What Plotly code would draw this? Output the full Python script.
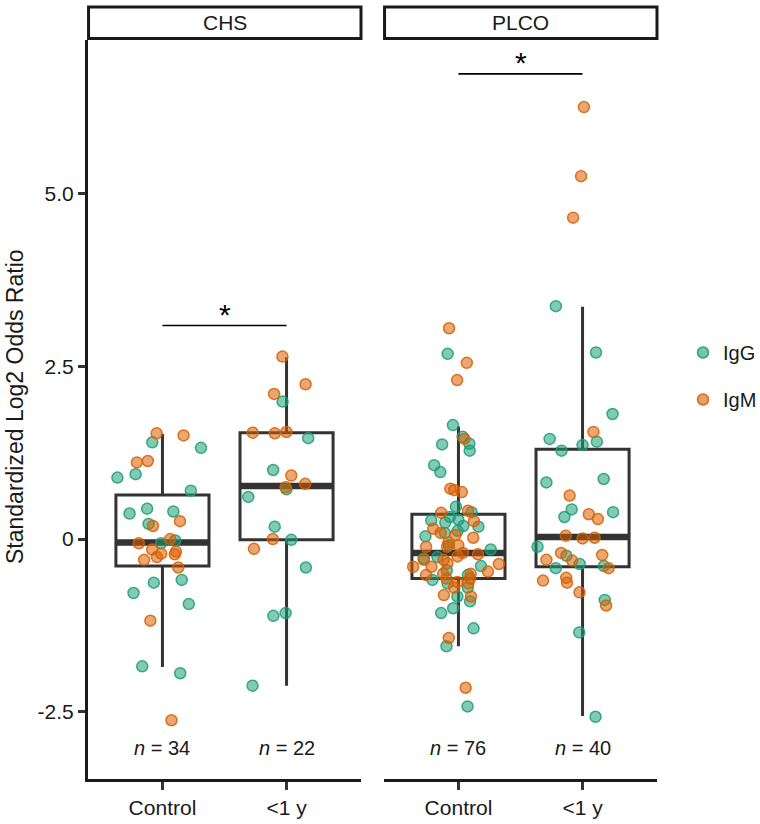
import plotly.graph_objects as go

# ---------------- data ----------------
categories = ["Control", "<1 y"]
panels = ["CHS", "PLCO"]
groups = ["IgG", "IgM"]

chs_control_igg = [1.40, 1.32, 0.94, 0.89, 0.70, 0.37, 0.44, 0.40, 0.22, -0.06,
                   -0.02, -0.63, -0.78, -0.59, -0.94, -1.84, -1.94]
chs_control_igm = [1.53, 1.50, 1.13, 1.11, 0.26, 0.19, -0.06, 0.00, -0.21, -0.26,
                   -0.18, -0.30, -0.22, -0.41, -1.18, -2.62, -0.15]
chs_lt1_igg = [1.99, 1.46, 1.00, 0.72, 0.61, 0.18, -0.01, -0.41, -1.07, -1.11, -2.12]
chs_lt1_igm = [2.64, 2.24, 2.10, 1.54, 1.53, 1.55, 0.92, 0.80, 0.75, 0.00, -0.14]

plco_control_igg = [2.68, 1.65, 1.48, 1.28, 1.38, 1.37, 1.07, 0.97, 0.47, 0.39,
                    0.32, 0.28, 0.19, 0.24, 0.27, 0.18, 0.09, 0.04, -0.09, -0.26,
                    -0.28, -0.39, -0.52, -0.59, -0.64, -0.70, -0.83, -0.90, -1.00,
                    -1.07, -1.29, -1.55, -2.42, -0.15, -0.45, 0.12]
plco_control_igm = [3.05, 2.55, 2.30, 1.45, 0.71, 0.73, 0.68, 0.41, 0.38, 0.26,
                    0.09, 0.06, 0.02, -0.09, -0.11, -0.11, -0.22, -0.20, -0.30,
                    -0.35, -0.30, -0.36, -0.40, -0.40, -0.47, -0.50, -0.50, -0.52,
                    -0.57, -0.57, -0.70, -0.64, -0.81, -0.83, -1.43, -2.15,
                    -0.25, -0.05, 0.15, -0.62]
plco_lt1_igg = [3.37, 2.70, 1.81, 1.36, 1.41, 1.45, 1.28, 0.82, 0.87, 0.43, 0.39,
                0.32, -0.11, -0.24, -0.36, -0.39, -0.42, -0.88, -1.35, -2.57]
plco_lt1_igm = [6.25, 5.25, 4.65, 1.55, 0.63, 0.36, 0.29, 0.05, 0.01, 0.02, -0.20,
                -0.30, -0.31, -0.23, -0.42, -0.56, -0.60, -0.63, -0.77, -0.96]

# box statistics (Control, <1 y)
chs_q1 = [-0.39, -0.01]
chs_median = [-0.05, 0.77]
chs_q3 = [0.64, 1.54]
chs_lower = [-1.85, -2.12]
chs_upper = [1.52, 2.63]

plco_q1 = [-0.57, -0.40]
plco_median = [-0.20, 0.03]
plco_q3 = [0.36, 1.30]
plco_lower = [-1.55, -2.56]
plco_upper = [1.63, 3.36]

n_counts = {"CHS": [34, 22], "PLCO": [76, 40]}
sig_level = {"CHS": 3.09, "PLCO": 6.73}

y_ticks = [-2.5, 0, 2.5, 5.0]
y_ticktext = ["-2.5", "0", "2.5", "5.0"]

# ---------------- styling ----------------
FONT = "Liberation Sans, Arial, sans-serif"
COLORS = {"IgG": (27, 158, 119), "IgM": (217, 95, 2)}
BOX_COLOR = "#333333"
INK = "#1a1a1a"

points = {
    "CHS": {"IgG": (chs_control_igg, chs_lt1_igg), "IgM": (chs_control_igm, chs_lt1_igm)},
    "PLCO": {"IgG": (plco_control_igg, plco_lt1_igg), "IgM": (plco_control_igm, plco_lt1_igm)},
}
stats = {
    "CHS": (chs_q1, chs_median, chs_q3, chs_lower, chs_upper),
    "PLCO": (plco_q1, plco_median, plco_q3, plco_lower, plco_upper),
}

fig = go.Figure()
axes = {"CHS": ("x", "y"), "PLCO": ("x2", "y2")}

for panel in panels:
    xa, ya = axes[panel]
    q1, med, q3, lo, up = stats[panel]
    fig.add_trace(go.Box(
        x=categories, q1=q1, median=med, q3=q3, lowerfence=lo, upperfence=up,
        boxpoints=False, width=0.75, whiskerwidth=0,
        line=dict(color=BOX_COLOR, width=3), fillcolor="rgba(0,0,0,0)",
        xaxis=xa, yaxis=ya, showlegend=False, hoverinfo="skip"))
    # thick median bar
    fig.add_trace(go.Box(
        x=categories, q1=med, median=med, q3=med, lowerfence=med, upperfence=med,
        boxpoints=False, width=0.75, whiskerwidth=0,
        line=dict(color=BOX_COLOR, width=6.5), fillcolor="rgba(0,0,0,0)",
        xaxis=xa, yaxis=ya, showlegend=False, hoverinfo="skip"))

for panel in panels:
    xa, ya = axes[panel]
    for g in groups:
        ctrl, lt1 = points[panel][g]
        r, gg, b = COLORS[g]
        fig.add_trace(go.Box(
            x=[categories[0]] * len(ctrl) + [categories[1]] * len(lt1),
            y=ctrl + lt1,
            boxpoints="all", jitter=1.0, pointpos=0, width=0.75,
            line=dict(width=0, color="rgba(0,0,0,0)"), fillcolor="rgba(0,0,0,0)",
            marker=dict(size=11, color=f"rgba({r},{gg},{b},0.55)",
                        line=dict(color=f"rgba({r},{gg},{b},0.85)", width=1.5)),
            name=g, xaxis=xa, yaxis=ya, showlegend=False, hoverinfo="y"))

# legend entries
for g in groups:
    r, gg, b = COLORS[g]
    fig.add_trace(go.Scatter(
        x=[None], y=[None], mode="markers", name=g, legendgroup=g,
        marker=dict(size=11, color=f"rgba({r},{gg},{b},0.6)",
                    line=dict(color=f"rgba({r},{gg},{b},0.9)", width=1.5))))

# significance bars
for panel in panels:
    xa, ya = axes[panel]
    lvl = sig_level[panel]
    fig.add_trace(go.Scatter(
        x=categories, y=[lvl, lvl], mode="lines",
        line=dict(color="black", width=1.6),
        xaxis=xa, yaxis=ya, showlegend=False, hoverinfo="skip"))
    fig.add_annotation(x=0.5, y=lvl, xref=xa, yref=ya, text="*", showarrow=False,
                       yanchor="middle", yshift=11,
                       font=dict(size=30, color="black", family=FONT))
    for i, n in enumerate(n_counts[panel]):
        fig.add_annotation(x=i, y=-3.02, xref=xa, yref=ya,
                           text=f"<i>n</i> = {n}", showarrow=False,
                           font=dict(size=20, color=INK, family=FONT))

# strips
PLOT_H = 824 - 40 - 45
PLOT_W = 760 - 88 - 103
for panel in panels:
    xa, ya = axes[panel]
    fig.add_shape(type="rect", xref=f"{xa} domain", yref=f"{ya} domain",
                  x0=0.002, x1=1.0, y0=1 + 1.5 / PLOT_H, y1=1 + 33 / PLOT_H,
                  line=dict(color=INK, width=3), fillcolor="white", layer="above")
    fig.add_annotation(xref=f"{xa} domain", yref=f"{ya} domain", x=0.5,
                       y=1 + 17.5 / PLOT_H, text=panel, showarrow=False,
                       yanchor="middle", font=dict(size=21, color=INK, family=FONT))

# y axis title
fig.add_annotation(xref="paper", yref="paper", x=(15 - 88) / PLOT_W, y=(779 - 407) / PLOT_H,
                   text="Standardized Log2 Odds Ratio", textangle=-90, showarrow=False,
                   xanchor="center", yanchor="middle",
                   font=dict(size=23, color=INK, family=FONT))

xaxis_common = dict(
    type="category", categoryorder="array", categoryarray=categories,
    range=[-0.6, 1.6], showline=True, linecolor=INK, linewidth=3,
    ticks="outside", ticklen=8, tickwidth=2.5, tickcolor="#333333", automargin=False,
    showgrid=False, zeroline=False, tickfont=dict(size=21, color=INK, family=FONT))

fig.update_layout(
    template="none",
    width=760, height=824,
    margin=dict(l=88, r=103, t=40, b=45, autoexpand=False),
    plot_bgcolor="white", paper_bgcolor="white",
    font=dict(family=FONT, size=21, color=INK),
    boxmode="overlay",
    showlegend=True,
    legend=dict(x=(683 - 88) / PLOT_W, y=(779 - 376) / PLOT_H, xanchor="left", yanchor="middle",
                font=dict(size=20, color=INK, family=FONT), traceorder="grouped",
                tracegroupgap=18, bgcolor="rgba(0,0,0,0)", borderwidth=0),
    xaxis=dict(domain=[0, 273 / PLOT_W], anchor="y", **xaxis_common),
    xaxis2=dict(domain=[296 / PLOT_W, 1], anchor="y2", **xaxis_common),
    yaxis=dict(domain=[0, 1], range=[-3.47, 7.22], tickvals=y_ticks, ticktext=y_ticktext,
               showline=True, linecolor=INK, linewidth=3, ticks="outside", ticklen=7,
               tickwidth=2.5, tickcolor="#333333", showgrid=False, zeroline=False,
               automargin=False, tickfont=dict(size=21, color=INK, family=FONT), anchor="x"),
    yaxis2=dict(domain=[0, 1], matches="y", anchor="x2", showticklabels=False,
                showline=False, ticks="", showgrid=False, zeroline=False, automargin=False),
)

fig.write_html("out.html", config={"displayModeBar": False},
               post_script="document.body.style.margin='0px';")
